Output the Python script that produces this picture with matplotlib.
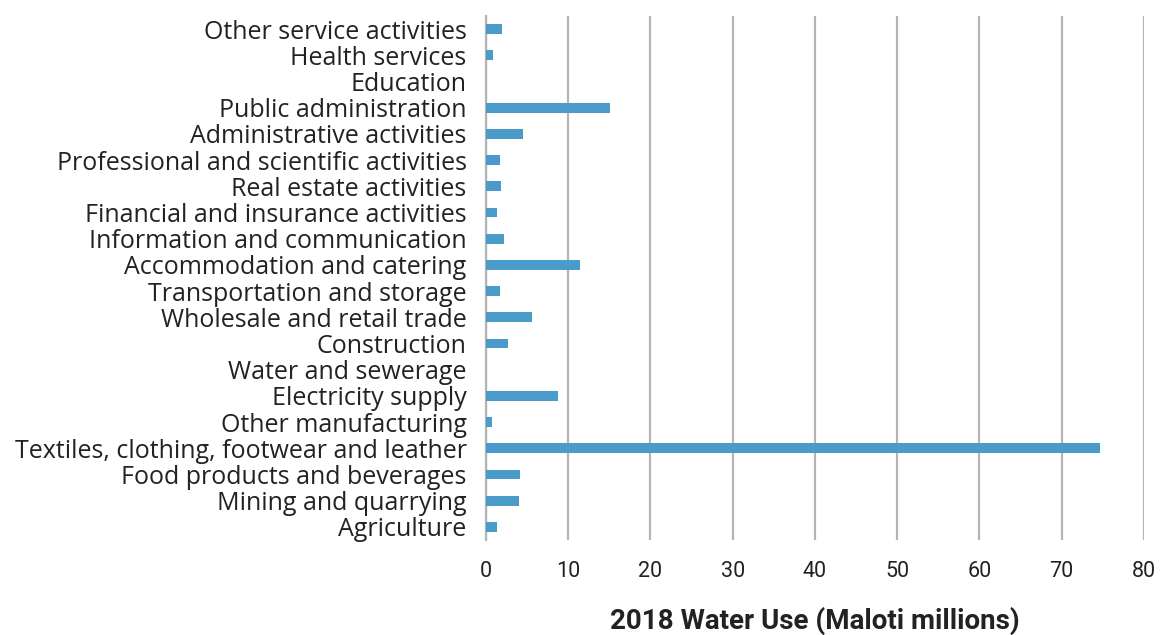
import matplotlib.pyplot as plt

sectors = [
    "Agriculture",
    "Mining and quarrying",
    "Food products and beverages",
    "Textiles, clothing, footwear and leather",
    "Other manufacturing",
    "Electricity supply",
    "Water and sewerage",
    "Construction",
    "Wholesale and retail trade",
    "Transportation and storage",
    "Accommodation and catering",
    "Information and communication",
    "Financial and insurance activities",
    "Real estate activities",
    "Professional and scientific activities",
    "Administrative activities",
    "Public administration",
    "Education",
    "Health services",
    "Other service activities",
]
water_use = [1.35, 4.0, 4.1, 74.6, 0.75, 8.75, 0, 2.7, 5.6, 1.7,
             11.4, 2.2, 1.35, 1.85, 1.7, 4.5, 15.1, 0, 0.85, 1.95]
xticks = [0, 10, 20, 30, 40, 50, 60, 70, 80]

fig = plt.figure(figsize=(11.64, 6.35), dpi=100)
ax = fig.add_axes([0.4175, 0.1496, 0.5653, 0.8252])

ax.barh(range(len(sectors)), water_use, height=0.38, color="#4a9bca", zorder=3)

ax.set_xlim(0, 80)
ax.set_ylim(-0.5, len(sectors) - 0.5)
ax.set_xticks(xticks)
ax.set_xticklabels([str(t) for t in xticks], fontsize=15.5, family="Roboto", color="#222222")
ax.set_yticks(range(len(sectors)))
ax.set_yticklabels(sectors, fontsize=18, family="Open Sans", color="#222222")
ax.tick_params(axis="both", length=0)
ax.tick_params(axis="x", pad=15)
ax.tick_params(axis="y", pad=14)

ax.grid(axis="x", color="#b3b3b3", linewidth=1.6, zorder=0)
for s in ["top", "right", "bottom"]:
    ax.spines[s].set_visible(False)
ax.spines["left"].set_color("#b3b3b3")
ax.spines["left"].set_linewidth(1.6)

ax.set_xlabel("2018 Water Use (Maloti millions)", fontsize=20, fontweight="bold",
              family="Roboto", color="#222222", labelpad=18)

fig.savefig("out.png", dpi=100)
